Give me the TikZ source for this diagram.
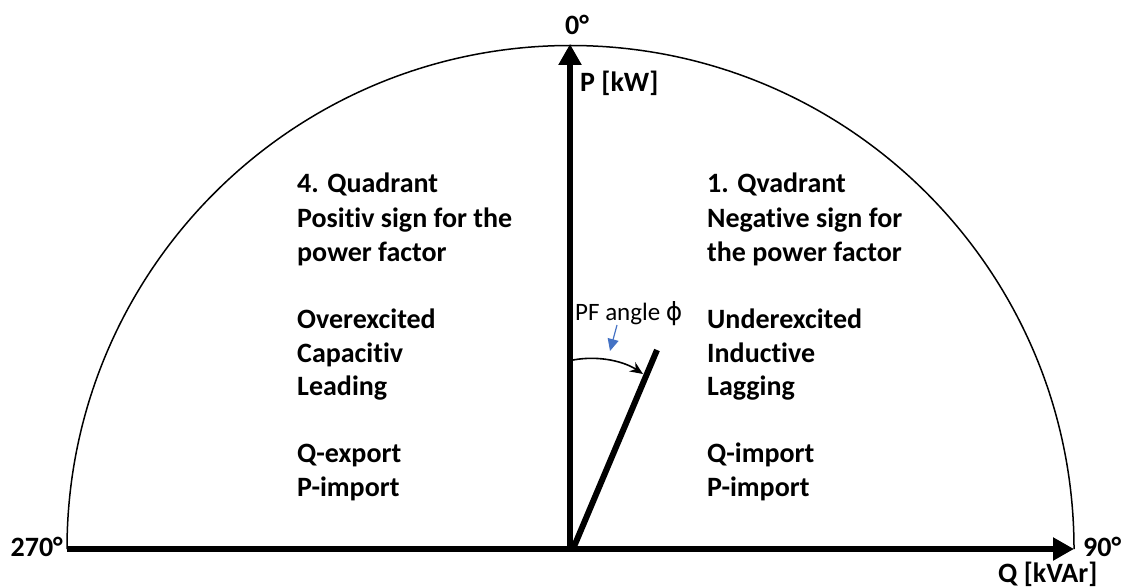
\documentclass[tikz,border=0pt]{standalone}
\usepackage{fontspec}
\setmainfont{Carlito}[Ligatures=NoCommon]
\newfontfamily\dejavu{DejaVu Sans}
\usetikzlibrary{arrows.meta}
\definecolor{pfblue}{RGB}{68,114,196}
\tikzset{
  lbl/.style={font=\bfseries\fontsize{28}{33}\selectfont, inner sep=0pt, anchor=base west},
  axis/.style={line width=5.5pt, -{Triangle[width=22pt,length=21pt]}},
}
\begin{document}
\begin{tikzpicture}[x=1pt,y=-1pt]
\useasboundingbox (0,0) rectangle (1123,588);
\coordinate (O) at (570,549);
\coordinate (L) at (67,549);
\coordinate (R) at (1074,549);
\coordinate (T) at (570,44);
\coordinate (pf) at (657,350);
\coordinate (pfs) at (573,549);
% semicircle
\draw[line width=1.5pt] (L) arc[start angle=180, end angle=360, radius=503.5];
% axes
\draw[line width=5.5pt] (L) -- (O);
\draw[axis] (O) -- (R);
\draw[axis] (O) -- (T);
% PF line
\draw[line width=6pt] (pfs) -- (pf);
% angle arc
\coordinate (a1) at (573,360);
\coordinate (a2) at (643,374);
\draw[line width=1.6pt, -{Stealth[length=13pt,width=11pt]}] (a1) .. controls (600,355) and (625,362) .. (a2);
% blue arrow
\node[font=\fontsize{25}{29}\selectfont, inner sep=0pt, anchor=base west] (pflbl) at (575,320) {PF angle {\dejavu ϕ}};
\coordinate (b1) at (617,325);
\coordinate (b2) at (610,351);
\draw[pfblue, line width=1.2pt, -{Triangle[width=11pt,length=12pt]}] (b1) -- (b2);
% axis labels
\node[lbl, anchor=base] (zero) at (577,35) {0°};
\node[lbl] (P) at (580,92) {P [kW]};
\node[lbl, anchor=base east] (n270) at (63,556) {270°};
\node[lbl] (n90) at (1083,556) {90°};
\node[lbl] (Q) at (998,582) {Q [kVAr]};
% left column
\node[lbl] (l1) at (297,193) {4. Quadrant};
\node[lbl] (l2) at (297,227) {Positiv sign for the};
\node[lbl] (l3) at (297,261) {power factor};
\node[lbl] (l4) at (297,328) {Overexcited};
\node[lbl] (l5) at (297,362) {Capacitiv};
\node[lbl] (l6) at (297,395) {Leading};
\node[lbl] (l7) at (297,462) {Q-export};
\node[lbl] (l8) at (297,496) {P-import};
% right column
\node[lbl] (r1) at (707,193) {1. Qvadrant};
\node[lbl] (r2) at (707,227) {Negative sign for};
\node[lbl] (r3) at (707,261) {the power factor};
\node[lbl] (r4) at (707,328) {Underexcited};
\node[lbl] (r5) at (707,362) {Inductive};
\node[lbl] (r6) at (707,395) {Lagging};
\node[lbl] (r7) at (707,462) {Q-import};
\node[lbl] (r8) at (707,496) {P-import};
\end{tikzpicture}
\end{document}
